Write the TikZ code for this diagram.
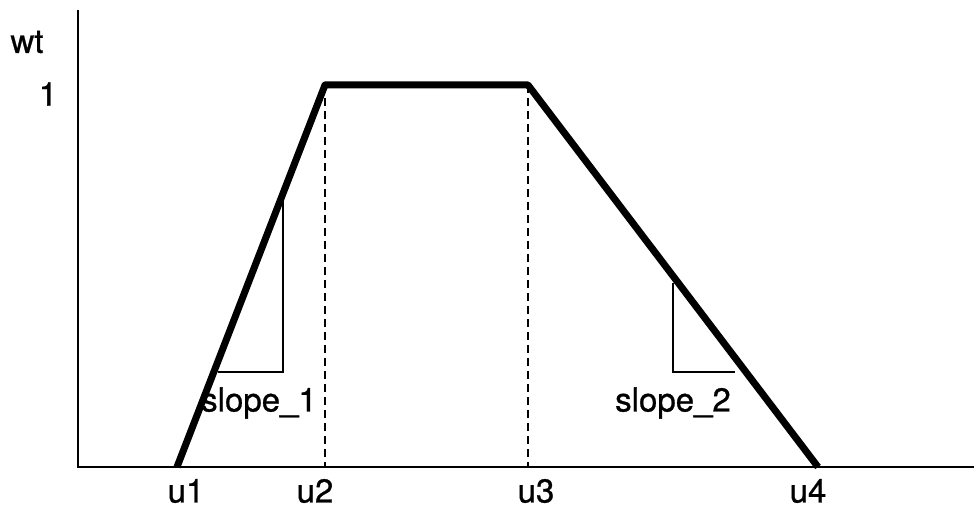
\documentclass[tikz,border=0pt]{standalone}
\usepackage{fontspec}
\setmainfont[FakeBold=0.8]{TeX Gyre Heros}
\newfontfamily\heavyfont[FakeBold=0.8]{TeX Gyre Heros}
\begin{document}
\begin{tikzpicture}[x=1pt,y=-1pt,
  axis/.style={line width=2pt},
  curve/.style={line width=7pt,line join=round},
  guide/.style={line width=2.4pt,dash pattern=on 8pt off 5pt},
  thin/.style={line width=1.8pt},
  lbl/.style={font=\heavyfont\fontsize{33}{38}\selectfont,inner sep=0pt}]
\useasboundingbox (0,0) rectangle (974,510);
% axes
\coordinate (O) at (78,467);
\coordinate (ytop) at (78,10);
\coordinate (xend) at (974,467);
\draw[axis] (ytop) -- (O) -- (xend);
% key points
\coordinate (u1) at (177,467);
\coordinate (u2) at (325,85);
\coordinate (u3) at (528,85);
\coordinate (u4) at (818,467);
\coordinate (u2b) at (325,467);
\coordinate (u3b) at (528,467);
% dashed guides
\draw[guide] (u2) -- (u2b);
\draw[guide] (u3) -- (u3b);
% trapezoid
\draw[curve] (u1) -- (u2) -- (u3) -- (u4);
% slope triangles
\coordinate (s1a) at (218,372);
\coordinate (s1b) at (283,372);
\coordinate (s1c) at (283,197);
\draw[thin] (s1a) -- (s1b) -- (s1c);
\coordinate (s2a) at (673,283);
\coordinate (s2b) at (673,372);
\coordinate (s2c) at (735,372);
\draw[thin] (s2a) -- (s2b) -- (s2c);
% labels
\node[lbl] (wt) at (27,42) {wt};
\node[lbl] (one) at (48,94) {1};
\node[lbl] (sl1) at (259,403) {slope\_1};
\node[lbl] (sl2) at (673,403) {slope\_2};
\node[lbl] (l1) at (186,491) {u1};
\node[lbl] (l2) at (315,491) {u2};
\node[lbl] (l3) at (536,491) {u3};
\node[lbl] (l4) at (808,491) {u4};
\end{tikzpicture}
\end{document}
